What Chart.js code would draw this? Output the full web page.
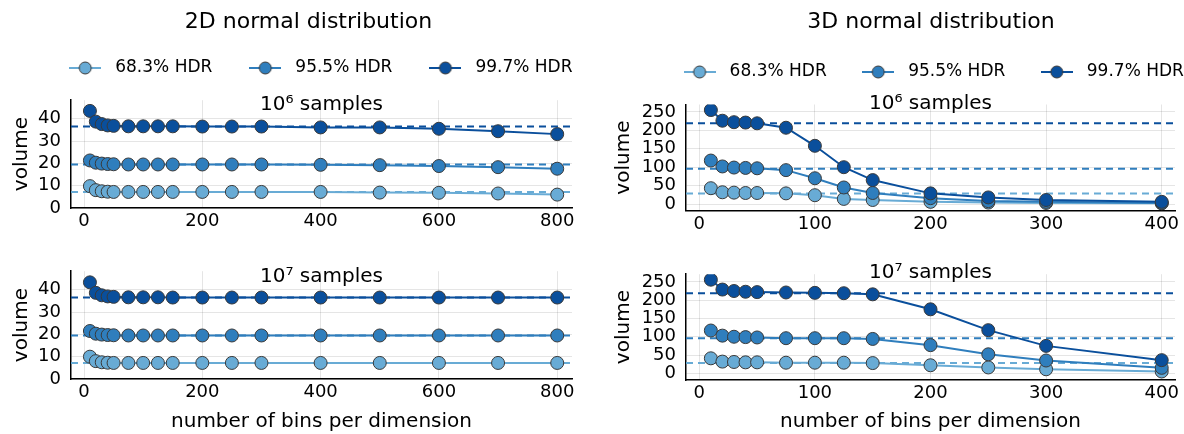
<!DOCTYPE html>
<html>
<head>
<meta charset="utf-8">
<script src="https://cdn.jsdelivr.net/npm/chart.js@4.4.1/dist/chart.umd.min.js"></script>
<style>
  html, body { margin: 0; padding: 0; background: #fff; }
  body { width: 1184px; height: 434px; position: relative; overflow: hidden; }
  canvas { position: absolute; }
</style>
</head>
<body>
<canvas id="tl" width="590" height="236" style="left:0;top:0"></canvas>
<canvas id="tr" width="589" height="236" style="left:595px;top:0"></canvas>
<canvas id="bl" width="590" height="198" style="left:0;top:236px"></canvas>
<canvas id="br" width="589" height="198" style="left:595px;top:236px"></canvas>
<canvas id="hl" width="591" height="94" style="left:13px;top:0"></canvas>
<canvas id="hr" width="572" height="94" style="left:645px;top:0"></canvas>
<script>
// data
const labels = ["68.3% HDR", "95.5% HDR", "99.7% HDR"]
const colors = ["#68abd5", "#2f7ebd", "#0a4f9c"]

const bins2D = [10, 20, 30, 40, 50, 75, 100, 125, 150, 200, 250, 300, 400, 500, 600, 700, 800]
const bins3D = [10, 20, 30, 40, 50, 75, 100, 125, 150, 200, 250, 300, 400]

// 2D, 10^6 samples
const d2_e6_683 = [9.8, 8.0, 7.5, 7.3, 7.2, 7.2, 7.2, 7.2, 7.2, 7.2, 7.2, 7.2, 7.2, 6.9, 6.8, 6.5, 6.0]
const d2_e6_955 = [21.3, 20.3, 19.9, 19.7, 19.6, 19.5, 19.5, 19.5, 19.5, 19.5, 19.5, 19.5, 19.35, 19.2, 18.8, 18.3, 17.6]
const d2_e6_997 = [43.5, 38.7, 37.6, 37.0, 36.8, 36.6, 36.6, 36.6, 36.6, 36.5, 36.5, 36.5, 36.1, 36.1, 35.5, 34.4, 33.1]
// 2D, 10^7 samples
const d2_e7_683 = [10.0, 8.0, 7.5, 7.3, 7.2, 7.2, 7.2, 7.2, 7.2, 7.2, 7.2, 7.2, 7.2, 7.2, 7.2, 7.2, 7.2]
const d2_e7_955 = [21.5, 20.3, 19.9, 19.7, 19.6, 19.5, 19.5, 19.5, 19.5, 19.5, 19.5, 19.5, 19.5, 19.5, 19.5, 19.5, 19.5]
const d2_e7_997 = [43.3, 38.6, 37.5, 37.0, 36.8, 36.6, 36.6, 36.6, 36.5, 36.5, 36.5, 36.5, 36.5, 36.5, 36.5, 36.5, 36.5]
// 3D, 10^6 samples
const d3_e6_683 = [43, 32, 31, 30, 30, 29, 24, 14, 11, 6, 4, 3, 2]
const d3_e6_955 = [118, 102, 99, 98, 97, 92, 70, 45, 30, 16, 8, 6, 3]
const d3_e6_997 = [255, 226, 222, 221, 219, 207, 158, 100, 65, 29, 18, 11, 6]
// 3D, 10^7 samples
const d3_e7_683 = [41, 32, 31, 30, 30, 29, 29, 29, 28, 22, 16, 11, 5]
const d3_e7_955 = [117, 103, 100, 99, 98, 96, 96, 96, 94, 77, 52, 35, 15]
const d3_e7_997 = [256, 229, 225, 223, 222, 221, 220, 219, 216, 175, 118, 75, 36]

// exact HDR volumes (dashed lines)
const exact2D = [7.22, 19.49, 36.5]
const exact3D = [28.5, 96, 219]

const xTicks2D = [0, 200, 400, 600, 800]
const yTicks2D = [0, 10, 20, 30, 40]
const xTicks3D = [0, 100, 200, 300, 400]
const yTicks3D = [0, 50, 100, 150, 200, 250]

Chart.defaults.font.family = "'DejaVu Sans', sans-serif"
Chart.defaults.color = "#000"

// little line-with-marker picture for the legend
function legendIcon(color) {
  const c = document.createElement("canvas")
  c.width = 32; c.height = 14
  const g = c.getContext("2d")
  g.strokeStyle = color; g.lineWidth = 2
  g.beginPath(); g.moveTo(0, 7); g.lineTo(32, 7); g.stroke()
  g.fillStyle = color; g.strokeStyle = "#3a3a3a"; g.lineWidth = 1
  g.beginPath(); g.arc(16, 7, 6, 0, Math.PI * 2); g.fill(); g.stroke()
  return c
}

// header = suptitle + legend, no axes
function makeHeader(id, title, align, pad, titlePadBottom) {
  new Chart(document.getElementById(id), {
    type: "line",
    data: {
      datasets: labels.map((l, i) => ({ label: l, data: [], borderColor: colors[i] }))
    },
    options: {
      responsive: false,
      animation: false,
      scales: { x: { display: false }, y: { display: false } },
      plugins: {
        tooltip: { enabled: false },
        title: {
          display: true,
          text: title,
          font: { size: 22, weight: "normal" },
          padding: { top: 8.8, bottom: titlePadBottom }
        },
        legend: {
          align: align,
          labels: {
            usePointStyle: true,
            pointStyleWidth: 43,
            padding: pad,
            font: { size: 17 },
            generateLabels: chart => chart.data.datasets.map((d, i) => ({
              text: d.label,
              pointStyle: legendIcon(d.borderColor),
              fillStyle: d.borderColor,
              strokeStyle: d.borderColor,
              lineWidth: 0,
              hidden: false,
              datasetIndex: i
            }))
          }
        }
      }
    }
  })
}

const gridColor = "rgba(0,0,0,0.1)"

function makePanel(id, cfg) {
  const datasets = []
  cfg.series.forEach((vals, i) => {
    datasets.push({
      label: labels[i],
      data: cfg.xs.map((x, j) => ({ x: x, y: vals[j] })),
      borderColor: colors[i],
      backgroundColor: colors[i],
      pointBackgroundColor: colors[i],
      pointBorderColor: "#3a3a3a",
      pointBorderWidth: 1,
      pointRadius: 6.5,
      borderWidth: 2,
      order: 3 - i
    })
  })
  cfg.exact.forEach((v, i) => {
    datasets.push({
      label: "exact",
      data: [{ x: cfg.xMin, y: v }, { x: cfg.xMax, y: v }],
      borderColor: colors[i],
      borderDash: [7, 5],
      borderWidth: 2,
      pointRadius: 0,
      order: 10
    })
  })

  new Chart(document.getElementById(id), {
    type: "line",
    data: { datasets },
    options: {
      responsive: false,
      animation: false,
      layout: { padding: { left: 0, right: cfg.padRight, top: 0, bottom: 0 } },
      plugins: {
        tooltip: { enabled: false },
        legend: { display: false },
        subtitle: {
          display: true,
          text: cfg.subtitle,
          fullSize: false,
          font: { size: 20, weight: "normal" },
          padding: { top: cfg.subPad[0], bottom: cfg.subPad[1] }
        }
      },
      scales: {
        x: {
          type: "linear",
          min: cfg.xMin,
          max: cfg.xMax,
          afterBuildTicks: s => { s.ticks = cfg.xTicks.map(v => ({ value: v })) },
          afterFit: s => { s.height = cfg.xHeight },
          ticks: { font: { size: 18 }, padding: 3, maxRotation: 0, autoSkip: false },
          grid: { color: gridColor, drawTicks: false },
          border: { display: true, color: "#000", width: 1.5 },
          title: {
            display: !!cfg.xTitle,
            text: "number of bins per dimension",
            font: { size: 20 },
            padding: { top: 0, bottom: 0 }
          }
        },
        y: {
          min: cfg.yMin,
          max: cfg.yMax,
          afterBuildTicks: s => { s.ticks = cfg.yTicks.map(v => ({ value: v })) },
          afterFit: s => { s.width = cfg.yWidth },
          ticks: { font: { size: 18 }, padding: 10, autoSkip: false },
          grid: { color: gridColor, drawTicks: false },
          border: { display: true, color: "#000", width: 1.5 },
          title: {
            display: true,
            text: "volume",
            font: { size: 20 },
            padding: { top: cfg.yTitlePad, bottom: 0 }
          }
        }
      }
    }
  })
}

makePanel("tl", {
  xs: bins2D, series: [d2_e6_683, d2_e6_955, d2_e6_997], exact: exact2D,
  xMin: -22, xMax: 825, yMin: 0, yMax: 48.3, xTicks: xTicks2D, yTicks: yTicks2D,
  subtitle: "10⁶ samples", subPad: [92.6, -16.4],
  padRight: 18, yWidth: 71, xHeight: 28, yTitlePad: 10
})
makePanel("tr", {
  xs: bins3D, series: [d3_e6_683, d3_e6_955, d3_e6_997], exact: exact3D,
  xMin: -11.5, xMax: 411.5, yMin: -18, yMax: 270, xTicks: xTicks3D, yTicks: yTicks3D,
  subtitle: "10⁶ samples", subPad: [91.6, -11.1],
  padRight: 9, yWidth: 91, xHeight: 25.3, yTitlePad: 17
})
makePanel("bl", {
  xs: bins2D, series: [d2_e7_683, d2_e7_955, d2_e7_997], exact: exact2D,
  xMin: -22, xMax: 825, yMin: 0, yMax: 48.3, xTicks: xTicks2D, yTicks: yTicks2D,
  subtitle: "10⁷ samples", subPad: [28.6, -17.4], xTitle: true,
  padRight: 18, yWidth: 71, xHeight: 55, yTitlePad: 10
})
makePanel("br", {
  xs: bins3D, series: [d3_e7_683, d3_e7_955, d3_e7_997], exact: exact3D,
  xMin: -11.5, xMax: 411.5, yMin: -18.3, yMax: 271, xTicks: xTicks3D, yTicks: yTicks3D,
  subtitle: "10⁷ samples", subPad: [25.1, -10.9], xTitle: true,
  padRight: 9, yWidth: 91, xHeight: 54, yTitlePad: 17
})

makeHeader("hl", "2D normal distribution", "end", 31.5, -7.2)
makeHeader("hr", "3D normal distribution", "center", 30, -1.7)
</script>
</body>
</html>
